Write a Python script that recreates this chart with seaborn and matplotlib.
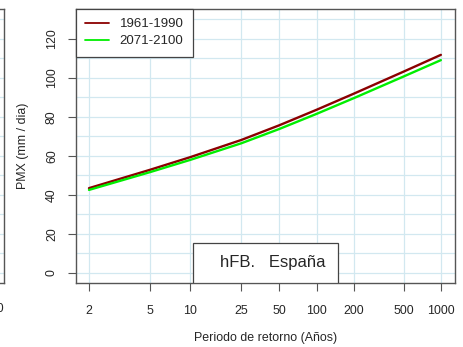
import numpy as np
import pandas as pd
import matplotlib
matplotlib.use("Agg")
import matplotlib.pyplot as plt
import seaborn as sns
from matplotlib.patches import Rectangle

# periodos de retorno y valores
periodos = [2, 5, 10, 25, 50, 100, 200, 500, 1000]
pmx_1961_1990 = [43.4, 52.8, 59.3, 68.1, 75.6, 83.6, 91.9, 103.1, 111.7]
pmx_2071_2100 = [42.5, 51.6, 57.9, 66.4, 73.7, 81.5, 89.6, 100.6, 109.0]
series = ["1961-1990", "2071-2100"]
colores = ["#8B0000", "#00EE00"]
y_ticks = [0, 20, 40, 60, 80, 100, 120]
etiqueta = "hFB.   España"


def gumbel(t):
    t = np.asarray(t, dtype=float)
    with np.errstate(all="ignore"):
        return -np.log(-np.log(1.0 - 1.0 / t))


def gumbel_inv(y):
    y = np.asarray(y, dtype=float)
    with np.errstate(all="ignore"):
        return 1.0 / (1.0 - np.exp(-np.exp(-y)))


df = pd.DataFrame({
    "T": periodos * 2,
    "PMX": pmx_1961_1990 + pmx_2071_2100,
    "serie": [series[0]] * len(periodos) + [series[1]] * len(periodos),
})

sns.set_style("white")
plt.rcParams["font.family"] = ["Liberation Sans", "DejaVu Sans"]

W, H = 464, 347
fig = plt.figure(figsize=(W / 100, H / 100), dpi=100)
left, right, top, bottom = 76, 455, 9, 283
ax = fig.add_axes([left / W, 1 - bottom / H, (right - left) / W, (bottom - top) / H])

grid_col = "#d2e8f0"
ax.set_xscale("function", functions=(gumbel, gumbel_inv))
ax.set_xlim(gumbel_inv(0.125), gumbel_inv(7.17))
ax.set_ylim(-5.2, 135.2)

for t in periodos:
    ax.axvline(t, color=grid_col, lw=0.9, zorder=0)
for v in range(0, 140, 10):
    ax.axhline(v, color=grid_col, lw=0.9, zorder=0)

sns.lineplot(data=df, x="T", y="PMX", hue="serie", palette=colores,
             lw=1.7, ax=ax, legend=False, zorder=3)

ax.set_xticks(periodos)
ax.set_xticklabels([str(p) for p in periodos])
ax.xaxis.set_minor_locator(matplotlib.ticker.NullLocator())
ax.set_yticks(y_ticks)
ax.set_yticklabels([str(v) for v in y_ticks], rotation=90, va="center")
ax.tick_params(axis="both", length=6, width=0.8, color="#555555", labelsize=8.9,
               direction="out", left=True, bottom=True)
ax.tick_params(axis="x", pad=10)
ax.tick_params(axis="y", pad=7)

for s in ax.spines.values():
    s.set_color("#555555")
    s.set_linewidth(1.0)

ax.set_xlabel("Periodo de retorno (Años)", fontsize=8.9, labelpad=11)
ax.set_ylabel("PMX (mm / dia)", fontsize=8.9, labelpad=12)

# leyenda
handles = [plt.Line2D([], [], color=c, lw=1.3) for c in colores]
leg = ax.legend(handles, series, loc="upper left", borderaxespad=0, fancybox=False,
                framealpha=1, edgecolor="#444444", fontsize=9.5, handlelength=1.8,
                handletextpad=0.8, borderpad=0.7, labelspacing=0.35)
leg.get_frame().set_linewidth(0.9)

# caja de texto inferior
x0 = (193 - left) / (right - left)
x1 = (338 - left) / (right - left)
y1 = (bottom - 243) / (bottom - top)
ax.add_patch(Rectangle((x0, 0), x1 - x0, y1, transform=ax.transAxes, facecolor="white",
                       edgecolor="#444444", lw=0.9, zorder=5))
ax.text((x0 + x1) / 2 + 0.02, y1 / 2, etiqueta, transform=ax.transAxes, ha="center",
        va="center", fontsize=12, zorder=6)

# borde del panel vecino
ax0 = fig.add_axes([-0.1, 1 - bottom / H, 0.1 + 3.5 / W, (bottom - top) / H])
ax0.set_ylim(-5.2, 135.2)
for v in range(0, 140, 10):
    ax0.axhline(v, color=grid_col, lw=0.9, zorder=0)
ax0.set_xticks([])
ax0.set_yticks([])
for s in ax0.spines.values():
    s.set_color("#555555")
    s.set_linewidth(1.0)
fig.text(4 / W, 1 - 309 / H, "1000", ha="right", va="center", fontsize=8.9)

fig.savefig("out.png", dpi=100)
